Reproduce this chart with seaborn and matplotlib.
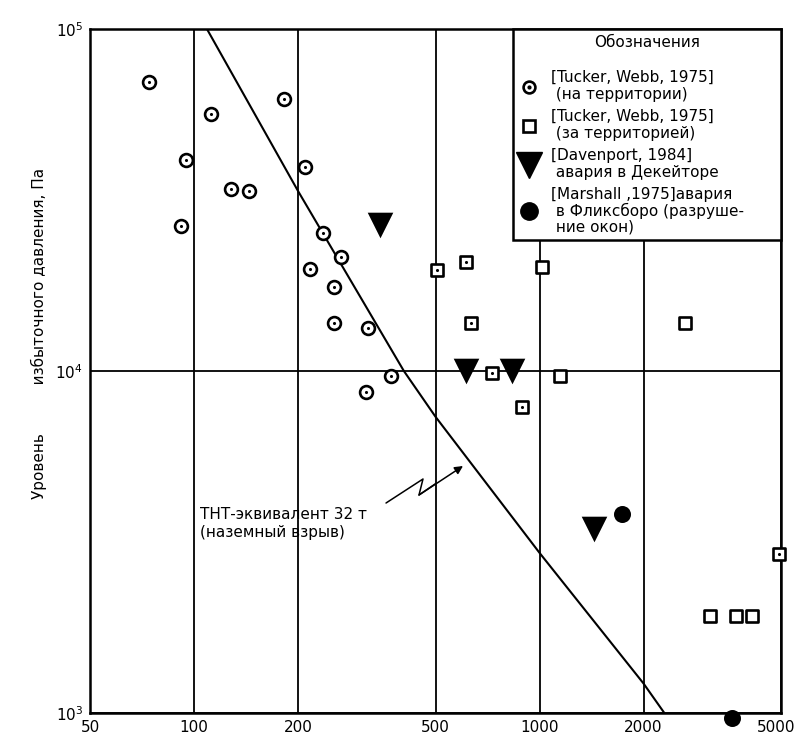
import matplotlib
matplotlib.use("Agg")
import matplotlib.pyplot as plt
import matplotlib.transforms as mtransforms
import seaborn as sns
from matplotlib.lines import Line2D
from matplotlib.legend_handler import HandlerTuple

# ---- data ----
circ_x = [74, 112, 182, 95, 92, 128, 144, 209, 236, 266, 216, 254, 255, 318, 372, 314]
circ_y = [70000, 56400, 62500, 41400, 26600, 34100, 33700, 39600, 25400, 21600,
          19900, 17600, 13800, 13400, 9700, 8700]

sq_x = [505, 614, 1020, 633, 2630, 730, 1145, 889, 4950, 3110, 3710, 4110]
sq_y = [19700, 20900, 20200, 13800, 13800, 9850, 9700, 7830, 2920, 1925, 1925, 1925]
sq_dot = [1, 1, 0, 1, 0, 1, 0, 1, 1, 0, 0, 0]

tri_x = [346, 612, 831, 1437]
tri_y = [26700, 10000, 10000, 3460]

dot_x = [1734, 3606]
dot_y = [3810, 970]

curve_x = [109, 200, 405, 500, 1000, 2000, 2298]
curve_y = [100000, 33600, 10000, 7350, 2940, 1220, 1000]

x_ticks = [50, 100, 200, 500, 1000, 2000, 5000]
x_tick_labels = ["50", "100", "200", "500", "1000", "2000", "5000"]
y_ticks = [1e3, 1e4, 1e5]
y_tick_labels = [r"$10^3$", r"$10^4$", r"$10^5$"]

labels = ["[Tucker, Webb, 1975]\n (на территории)",
          "[Tucker, Webb, 1975]\n (за территорией)",
          "[Davenport, 1984]\n авария в Декейторе",
          "[Marshall ,1975]авария\n в Фликсборо (разруше-\n ние окон)"]
legend_title = "Обозначения"
curve_label = "ТНТ-эквивалент 32 т\n(наземный взрыв)"
y_label = "Уровень          избыточного давления, Па"

# ---- styling ----
sns.set_style("white")
plt.rcParams["font.family"] = ["DejaVu Sans"]
plt.rcParams["mathtext.fontset"] = "dejavusans"
for k in ["text.color", "axes.labelcolor", "xtick.color", "ytick.color"]:
    plt.rcParams[k] = "black"

fig = plt.figure(figsize=(7.97, 7.40), dpi=100)
ax = fig.add_axes([90 / 797, 27 / 740, 691 / 797, 684 / 740])
ax.set_xscale("log")
ax.set_yscale("log")

# curve
sns.lineplot(x=curve_x, y=curve_y, ax=ax, color="black", lw=1.5,
             sort=False, estimator=None, zorder=3)

# circles with a dot
sns.scatterplot(x=circ_x, y=circ_y, ax=ax, marker="o", s=85, facecolor="white",
                edgecolor="black", linewidth=1.9, zorder=4, clip_on=False)
sns.scatterplot(x=circ_x, y=circ_y, ax=ax, marker="o", s=5, color="black",
                linewidth=0, zorder=5, clip_on=False)

# squares
sns.scatterplot(x=sq_x, y=sq_y, ax=ax, marker="s", s=70, facecolor="white",
                edgecolor="black", linewidth=1.9, zorder=4, clip_on=False)
dx = [x for x, d in zip(sq_x, sq_dot) if d]
dy = [y for y, d in zip(sq_y, sq_dot) if d]
sns.scatterplot(x=dx, y=dy, ax=ax, marker="o", s=5, color="black",
                linewidth=0, zorder=5, clip_on=False)

# triangles
sns.scatterplot(x=tri_x, y=tri_y, ax=ax, marker="v", s=340, color="black",
                linewidth=0, zorder=4, clip_on=False)

# filled circles
sns.scatterplot(x=dot_x, y=dot_y, ax=ax, marker="o", s=150, color="black",
                linewidth=0, zorder=6, clip_on=False)

ax.set_xlim(50, 5000)
ax.set_ylim(1e3, 1e5)
ax.xaxis.set_minor_locator(matplotlib.ticker.NullLocator())
ax.yaxis.set_minor_locator(matplotlib.ticker.NullLocator())
ax.set_xticks(x_ticks)
ax.set_xticklabels(x_tick_labels, fontsize=11)
ax.set_yticks(y_ticks)
ax.set_yticklabels(y_tick_labels, fontsize=11)
ax.tick_params(length=0, pad=5)
# nudge last x label so it stays inside the figure
last = ax.get_xticklabels()[-1]
last.set_transform(last.get_transform() +
                   mtransforms.ScaledTranslation(-5 / 100, 0, fig.dpi_scale_trans))
ax.grid(True, color="black", lw=1.3)
for sp in ax.spines.values():
    sp.set_color("black")
    sp.set_linewidth(1.8)

ax.set_ylabel(y_label, fontsize=11)
ax.yaxis.set_label_coords(-0.062, 0.555)

# annotation text and zigzag arrow
ax.text(0.1592, 0.277, curve_label, transform=ax.transAxes, fontsize=11,
        ha="left", va="center", linespacing=1.3)
ax.plot([0.4284, 0.4819, 0.4761, 0.50], [0.3070, 0.3421, 0.3187, 0.3352],
        transform=ax.transAxes, color="black", lw=1.1, zorder=3)
ax.annotate("", xy=(0.5398, 0.3611), xytext=(0.4761, 0.3187),
            xycoords="axes fraction", textcoords="axes fraction",
            arrowprops=dict(arrowstyle="-|>", color="black", lw=1.1,
                            mutation_scale=12, shrinkA=0, shrinkB=0))

# legend
h1 = (Line2D([], [], marker="o", ls="", mfc="white", mec="black", mew=1.9, ms=8.5),
      Line2D([], [], marker="o", ls="", color="black", ms=2))
h2 = Line2D([], [], marker="s", ls="", mfc="white", mec="black", mew=1.9, ms=8)
h3 = Line2D([], [], marker="v", ls="", color="black", ms=19)
h4 = Line2D([], [], marker="o", ls="", color="black", ms=12.5)
x0 = (513 - 90) / 691
leg = ax.legend([h1, h2, h3, h4], labels, title=legend_title + "\n",
                loc="upper right", bbox_to_anchor=(x0, 0, 1 - x0, 1),
                mode="expand", borderaxespad=0, fontsize=11,
                title_fontsize=11, frameon=True, fancybox=False, framealpha=1,
                edgecolor="black", handlelength=1.3, handletextpad=0.8,
                labelspacing=0.42, borderpad=0.4,
                handler_map={tuple: HandlerTuple(ndivide=1)})
leg.get_frame().set_linewidth(1.8)
leg.get_title().set_linespacing(0.85)
leg.set_zorder(10)
texts = leg.get_texts()
for t in texts[:3]:
    t.set_linespacing(1.22)
texts[3].set_linespacing(1.05)

fig.savefig("out.png", dpi=100)
